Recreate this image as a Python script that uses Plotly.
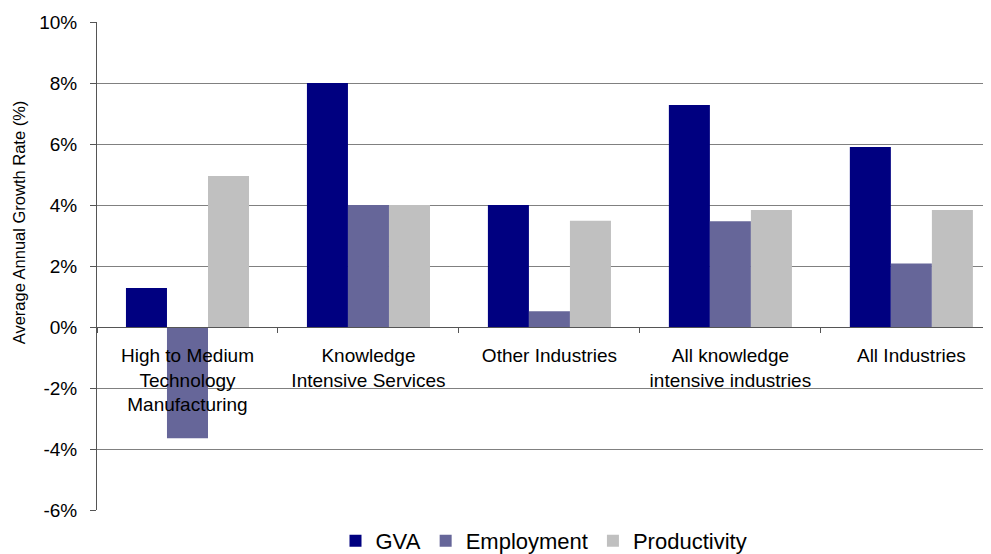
import plotly.graph_objects as go

# sectors and average annual growth rates (%)
categories = [
    "High to Medium<br>Technology<br>Manufacturing",
    "Knowledge<br>Intensive Services",
    "Other Industries",
    "All knowledge<br>intensive industries",
    "All Industries",
]
gva = [1.28, 8.0, 4.0, 7.28, 5.9]
employment = [-3.65, 4.0, 0.52, 3.47, 2.08]
productivity = [4.95, 4.0, 3.48, 3.84, 3.84]
y_ticks = [-6, -4, -2, 0, 2, 4, 6, 8, 10]

FONT = "Liberation Sans, Arial, sans-serif"

fig = go.Figure()
fig.add_trace(go.Bar(x=categories, y=gva, name="GVA", marker_color="#000080"))
fig.add_trace(go.Bar(x=categories, y=employment, name="Employment", marker_color="#666699"))
fig.add_trace(go.Bar(x=categories, y=productivity, name="Productivity", marker_color="#C0C0C0"))

fig.update_traces(marker_line_width=0)

# page body adds an 8px margin, so the figure is sized to fit inside it
fig.update_layout(
    width=983,
    height=546,
    margin=dict(l=89, r=0, t=14, b=44, autoexpand=False),
    paper_bgcolor="white",
    plot_bgcolor="white",
    font=dict(family=FONT, color="black", size=18),
    barmode="group",
    bargap=0.32,
    bargroupgap=0,
    showlegend=True,
    legend=dict(
        orientation="h",
        x=0.5,
        xanchor="center",
        yref="container",
        y=0.024,
        yanchor="middle",
        font=dict(size=22),
        itemwidth=30,
        traceorder="normal",
    ),
    xaxis=dict(
        type="category",
        range=[-0.5, 4.44],
        anchor="free",
        position=0.375,
        showline=True,
        linecolor="#555555",
        linewidth=1,
        ticks="outside",
        tickson="boundaries",
        ticklen=5,
        tickcolor="#555555",
        showgrid=False,
        ticklabelstandoff=11,
        tickfont=dict(size=19),
    ),
    yaxis=dict(
        range=[-6, 10],
        tickmode="array",
        tickvals=y_ticks,
        ticktext=[f"{v}%" for v in y_ticks],
        showgrid=True,
        gridcolor="#808080",
        gridwidth=1,
        zeroline=False,
        showline=True,
        linecolor="#555555",
        ticks="outside",
        ticklen=6,
        tickcolor="#555555",
        ticklabelstandoff=9,
        tickfont=dict(size=19),
    ),
)

fig.add_annotation(
    text="Average Annual Growth Rate (%)",
    xref="paper",
    yref="paper",
    x=-0.087,
    y=0.59,
    xanchor="center",
    yanchor="middle",
    textangle=-90,
    showarrow=False,
    font=dict(size=16.5, family=FONT),
)

fig.write_html("out.html")
